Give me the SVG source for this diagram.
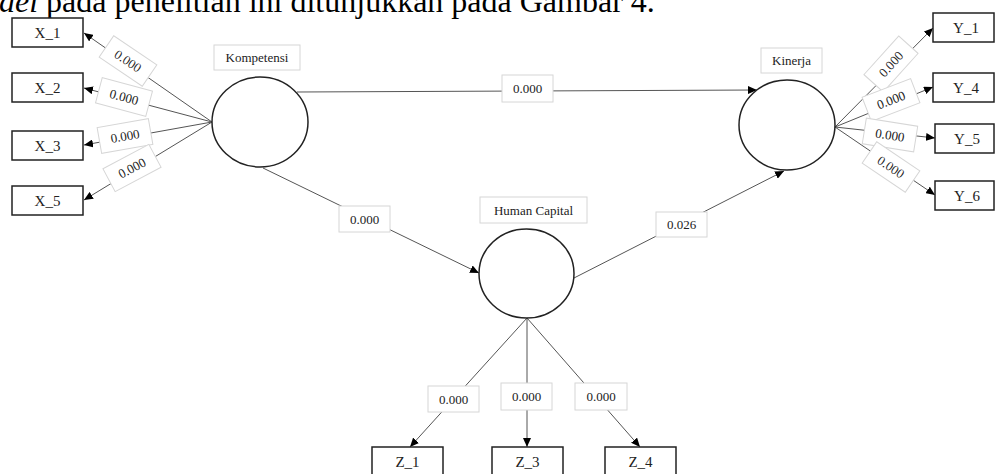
<svg xmlns="http://www.w3.org/2000/svg" width="995" height="474" viewBox="0 0 995 474">
<defs>
<marker id="arr" markerUnits="userSpaceOnUse" markerWidth="10" markerHeight="8" refX="9" refY="4" orient="auto">
<path d="M0,0 L9,4 L0,8 Z" fill="#000"/>
</marker>
<style>
.bg{fill:#fff}
.top{font-family:"Liberation Serif","Times New Roman",serif;font-size:32px;fill:#000}
.box{fill:#fff;stroke:#222;stroke-width:1.5}
.circ{fill:#fff;stroke:#222;stroke-width:1.5}
.lbox{fill:#fff;stroke:#d6d6d6;stroke-width:1}
.t{font-family:"Liberation Serif","Times New Roman",serif;font-size:13px;fill:#222;text-anchor:middle}
.bt{font-family:"Liberation Serif","Times New Roman",serif;font-size:15px;fill:#222;text-anchor:middle}
.ln{stroke:#555;stroke-width:1;fill:none}
.la{stroke:#555;stroke-width:1;fill:none;marker-end:url(#arr)}
</style>
</defs>
<rect class="bg" x="0" y="0" width="995" height="474"/>
<text class="top" x="-1" y="12"><tspan font-style="italic">del</tspan> pada penelitian ini ditunjukkan pada Gambar 4.</text>

<g id="connectors">
<line class="la" x1="212" y1="122" x2="84" y2="33"/>
<line class="la" x1="212" y1="122" x2="84" y2="88"/>
<line class="la" x1="212" y1="122" x2="84" y2="145"/>
<line class="la" x1="212" y1="122" x2="84" y2="200"/>
<line class="la" x1="835" y1="127" x2="933" y2="28"/>
<line class="la" x1="835" y1="127" x2="933" y2="87"/>
<line class="la" x1="835" y1="127" x2="935" y2="138"/>
<line class="la" x1="835" y1="127" x2="935" y2="195"/>
<line class="la" x1="297" y1="92" x2="757" y2="90"/>
<line class="la" x1="263" y1="168" x2="479" y2="273"/>
<line class="la" x1="574" y1="278" x2="784" y2="171"/>
<line class="la" x1="527" y1="318" x2="410" y2="447"/>
<line class="la" x1="527" y1="318" x2="527" y2="447"/>
<line class="la" x1="527" y1="318" x2="640" y2="447"/>

<g transform="translate(128,61) rotate(34)"><rect class="lbox" x="-26" y="-13" width="52" height="26"/><text class="t" x="0" y="4.5">0.000</text></g>
<g transform="translate(124,97) rotate(15)"><rect class="lbox" x="-26" y="-13" width="52" height="26"/><text class="t" x="0" y="4.5">0.000</text></g>
<g transform="translate(125,136) rotate(-10)"><rect class="lbox" x="-26" y="-13" width="52" height="26"/><text class="t" x="0" y="4.5">0.000</text></g>
<g transform="translate(132,168) rotate(-28)"><rect class="lbox" x="-26" y="-13" width="52" height="26"/><text class="t" x="0" y="4.5">0.000</text></g>

<g transform="translate(891,64) rotate(-48)"><rect class="lbox" x="-26" y="-13" width="52" height="26"/><text class="t" x="0" y="4.5">0.000</text></g>
<g transform="translate(891,100) rotate(-21)"><rect class="lbox" x="-26" y="-13" width="52" height="26"/><text class="t" x="0" y="4.5">0.000</text></g>
<g transform="translate(890,135) rotate(9)"><rect class="lbox" x="-26" y="-13" width="52" height="26"/><text class="t" x="0" y="4.5">0.000</text></g>
<g transform="translate(891,167) rotate(34)"><rect class="lbox" x="-26" y="-13" width="52" height="26"/><text class="t" x="0" y="4.5">0.000</text></g>

<g><rect class="lbox" x="502" y="75" width="51" height="27"/><text class="t" x="527.5" y="93">0.000</text></g>
<g><rect class="lbox" x="339" y="206" width="51" height="26"/><text class="t" x="364.5" y="223.5">0.000</text></g>
<g><rect class="lbox" x="656" y="212" width="51" height="25"/><text class="t" x="681.5" y="229">0.026</text></g>
<g><rect class="lbox" x="428" y="386" width="51" height="26"/><text class="t" x="453.5" y="403.5">0.000</text></g>
<g><rect class="lbox" x="501" y="383" width="51" height="27"/><text class="t" x="526.5" y="401">0.000</text></g>
<g><rect class="lbox" x="575" y="383" width="52" height="27"/><text class="t" x="601" y="401">0.000</text></g>
</g>

<g id="Kompetensi">
<rect class="lbox" x="214" y="45" width="86" height="25"/><text class="t" x="257" y="62">Kompetensi</text>
<ellipse class="circ" cx="260" cy="122" rx="48" ry="45"/>
</g>
<g id="Kinerja">
<rect class="lbox" x="761" y="48" width="61" height="25"/><text class="t" x="791.5" y="65">Kinerja</text>
<ellipse class="circ" cx="787" cy="125" rx="48" ry="45"/>
</g>
<g id="HumanCapital">
<rect class="lbox" x="480" y="197" width="107" height="26"/><text class="t" x="533.5" y="214.5">Human Capital</text>
<ellipse class="circ" cx="526.5" cy="273.5" rx="47.5" ry="44.5"/>
</g>

<g id="X_1"><rect class="box" x="12" y="18" width="71" height="29"/><text class="bt" x="47.5" y="37.5">X_1</text></g>
<g id="X_2"><rect class="box" x="12" y="73" width="71" height="29"/><text class="bt" x="47.5" y="92.5">X_2</text></g>
<g id="X_3"><rect class="box" x="12" y="131" width="71" height="29"/><text class="bt" x="47.5" y="150.5">X_3</text></g>
<g id="X_5"><rect class="box" x="12" y="186" width="71" height="29"/><text class="bt" x="47.5" y="205.5">X_5</text></g>

<g id="Y_1"><rect class="box" x="933" y="13" width="61" height="29"/><text class="bt" x="966" y="32.5">Y_1</text></g>
<g id="Y_4"><rect class="box" x="933" y="73" width="61" height="29"/><text class="bt" x="966" y="92.5">Y_4</text></g>
<g id="Y_5"><rect class="box" x="935" y="124" width="59" height="29"/><text class="bt" x="967" y="143.5">Y_5</text></g>
<g id="Y_6"><rect class="box" x="935" y="181" width="59" height="29"/><text class="bt" x="967" y="200.5">Y_6</text></g>

<g id="Z_1"><rect class="box" x="372" y="447" width="71" height="29"/><text class="bt" x="407.5" y="466.5">Z_1</text></g>
<g id="Z_3"><rect class="box" x="492" y="447" width="71" height="29"/><text class="bt" x="527.5" y="466.5">Z_3</text></g>
<g id="Z_4"><rect class="box" x="605" y="447" width="71" height="29"/><text class="bt" x="640.5" y="466.5">Z_4</text></g>
</svg>
